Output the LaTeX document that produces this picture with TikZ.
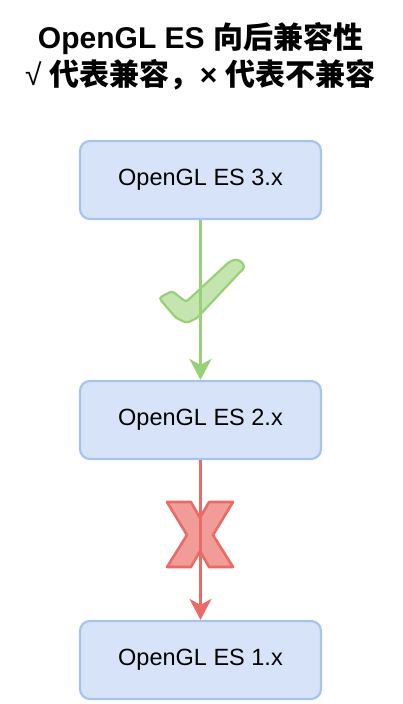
\documentclass[tikz,border=0pt]{standalone}
\usepackage{fontspec}
\setmainfont{Liberation Sans}
\newfontfamily\cjk{Noto Sans CJK SC}
\usepackage{xcolor}
\usepackage{tikz}
\usetikzlibrary{positioning}
\usetikzlibrary{arrows.meta}
\definecolor{boxfill}{HTML}{D6E3F8}
\definecolor{boxline}{HTML}{A9C4EB}
\definecolor{okline}{HTML}{97D077}
\definecolor{okfill}{HTML}{C5E5B0}
\definecolor{noline}{HTML}{EA6B66}
\definecolor{nofill}{HTML}{F19C99}
\tikzset{edge/.style = {-{Stealth[length=21pt,width=22pt,inset=6pt]},line width=2.5pt}}

\begin{document}
\begin{tikzpicture}[x=1pt,y=-1pt,node distance=240pt,main node/.style={rectangle,rounded corners=10pt,draw=boxline,fill=boxfill,line width=2.2pt,minimum width=241pt,minimum height=78pt,font=\fontsize{23.5}{28}\selectfont},title/.style={anchor=base,font=\fontsize{30}{35}\selectfont\bfseries}]
                \useasboundingbox (0,0) rectangle (402,704);
                \node[title] (t1) at (200.5,48) {OpenGL ES {\cjk 向后兼容性}};
                \node[title] (t2) at (200.5,85) {{\mdseries √} {\cjk 代表兼容，}× {\cjk 代表不兼容}};

                \node[main node] (3) at (200.5,180) {OpenGL ES 3.x};
                \node[main node] (2) [below of=3] {OpenGL ES 2.x};
                \node[main node] (1) [below of=2] {OpenGL ES 1.x};

                % tick and cross
                \filldraw[okline,fill=okfill,line width=2.2pt,rounded corners=3pt]
                    (159,298) -- (172,291) -- (186,302) -- (229,262)
                    .. controls (240,257) and (247,266) .. (240,272)
                    -- (197,318) -- (187,323) -- (176,318) -- cycle;
                \filldraw[noline,fill=nofill,line width=2.6pt,line join=round]
                    (167,502) -- (191,502) -- (200,518) -- (209,502) -- (233,502) -- (213,535)
                    -- (233,567) -- (209,567) -- (200,551) -- (191,567) -- (167,567) -- (187,535) -- cycle;

                \path[edge,okline] (3) edge (2);
                \path[edge,noline] (2) edge (1);
            \end{tikzpicture}
\end{document}
